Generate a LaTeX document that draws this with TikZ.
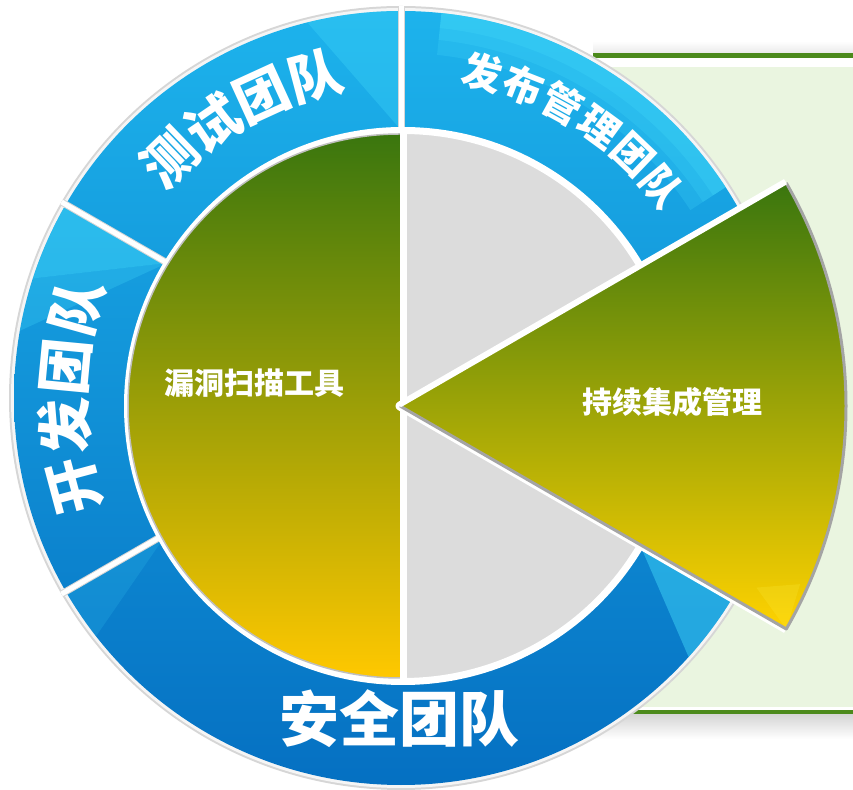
\documentclass[tikz,border=0pt]{standalone}
\usepackage{fontspec}
\newfontfamily\cjk{Noto Sans CJK SC}
\usetikzlibrary{calc}
\definecolor{panelfill}{HTML}{EAF5E0}
\definecolor{panelline}{HTML}{4C8A1C}
\definecolor{ringtop}{HTML}{1DB3EC}
\definecolor{ringmid}{HTML}{0A94D8}
\definecolor{ringbot}{HTML}{0570C2}
\definecolor{ringedge}{HTML}{D6D6D6}
\definecolor{gloss}{HTML}{45DCFB}
\definecolor{greentop}{HTML}{3A760E}
\definecolor{olive}{HTML}{A3A20C}
\definecolor{goldbot}{HTML}{FFC800}
\definecolor{wedgemid}{HTML}{AEA709}
\definecolor{wedgebot}{HTML}{FFD200}
\definecolor{sectorgray}{HTML}{DCDCDC}
\definecolor{bevel}{HTML}{A4A4A4}
\begin{document}
\begin{tikzpicture}[x=1pt,y=1pt,line join=round,
  ringtxt/.style={text=white,inner sep=0pt,font=\cjk\bfseries\fontsize{#1}{#1}\selectfont},
  intxt/.style={text=white,inner sep=0pt,font=\cjk\bfseries\fontsize{30}{30}\selectfont},
  gapline/.style={white,line width=5pt},
  glossy/.style={fill=gloss,opacity=#1}]
\useasboundingbox (0,0) rectangle (853,789);
\coordinate (rc) at (401,391);
\coordinate (ic) at (403,383);
\coordinate (wc) at (400,383);

% side panel behind the wheel
\shade[top color=white,bottom color=black!8] (593,736) rectangle (853,748);
\fill[panelfill] (593,82) rectangle (853,722);
\fill[panelline] (593,731) rectangle (853,736);
\fill[panelline] (593,75) rectangle (853,79);
\shade[top color=black!16,bottom color=white] (593,50) rectangle (853,74);

% outer ring
\fill[ringedge] (rc) circle (392);
\fill[white!96!black] (rc) circle (390);
\shade[top color=ringtop,middle color=ringmid,bottom color=ringbot] (rc) circle (387);

% highlights on the ring segments
\fill[glossy=.30] ($(rc)+(90:268)$) -- ($(rc)+(90:387)$) arc[start angle=90,end angle=104,radius=387] -- cycle;
\foreach \o/\r in {.22/345,.22/360,.25/372}
  \fill[glossy=\o] ($(rc)+(84:\r)$) arc[start angle=84,end angle=33,radius=\r]
     -- ($(rc)+(33:387)$) arc[start angle=33,end angle=84,radius=387] -- cycle;
\fill[glossy=.45] ($(rc)+(150:270)$) -- ($(rc)+(150:387)$) arc[start angle=150,end angle=162,radius=387] -- cycle;
\fill[glossy=.25] ($(rc)+(150:270)$) -- ($(rc)+(162:387)$) arc[start angle=162,end angle=170,radius=387] -- cycle;
\fill[glossy=.45] ($(rc)+(330:270)$) -- ($(rc)+(330:387)$) arc[start angle=330,end angle=318,radius=387] -- cycle;
\fill[glossy=.15] ($(rc)+(210:270)$) -- ($(rc)+(210:387)$) arc[start angle=210,end angle=218,radius=387] -- cycle;

% gaps between the team segments
\foreach \a [count=\i] in {90,150,210} {
  \coordinate (gi\i) at ($(rc)+(\a:262)$);
  \coordinate (go\i) at ($(rc)+(\a:392)$);
  \draw[ringedge,line width=7pt] (gi\i) -- (go\i);
  \draw[gapline] (gi\i) -- (go\i);
}

% team labels on the ring
\foreach \ch/\a [count=\i] in {测/134,试/124.3,团/114.6,队/104.9}
  \node[ringtxt=54,rotate=\a-90] (test\i) at ([shift={(\a:333)}]rc) {\ch};
\foreach \ch/\a [count=\i] in {发/76,布/68.6,管/61.2,理/53.8,团/46.4,队/39}
  \node[ringtxt=40,rotate=\a-90] (rel\i) at ([shift={(\a:336)}]rc) {\ch};
\foreach \ch/\a [count=\i] in {开/195,发/184.8,团/174.6,队/164.4}
  \node[ringtxt=56,rotate=\a-90] (dev\i) at ([shift={(\a:337)}]rc) {\ch};
\node[ringtxt=60] (sec) at (399,70) {安全团队};

% inner disc
\fill[white] (ic) circle (279);
\shade[top color=greentop,middle color=olive,bottom color=goldbot]
  ($(ic)+(-3,272)$) arc[start angle=90,end angle=270,radius=272] -- cycle;
\draw[bevel!70,line width=1.5pt] ($(ic)+(-3,272)$) arc[start angle=90,end angle=270,radius=272];
\fill[sectorgray,draw=white,line width=6pt] (ic) -- ++(30:275) arc[start angle=30,end angle=90,radius=275] -- cycle;
\fill[sectorgray,draw=white,line width=6pt] (ic) -- ++(270:275) arc[start angle=270,end angle=330,radius=275] -- cycle;
\draw[white,line width=7pt] ($(ic)+(0,276)$) -- ($(ic)+(0,-276)$);

% pulled-out wedge
\coordinate (wt) at ($(wc)+(30:446)$);
\coordinate (wb) at ($(wc)+(-30:446)$);
\draw[white,line width=9pt] (wt) -- (wc) -- (wb);
\shade[top color=greentop,middle color=wedgemid,bottom color=wedgebot]
  (wc) -- (wt) arc[start angle=30,end angle=-30,radius=446] -- cycle;
\fill[yellow!70!white,opacity=.18] (wb) -- ($(wc)+(-24:438)$) -- ($(wc)+(-27:400)$) -- cycle;
\draw[bevel,line width=3pt] (wc) -- (wb) arc[start angle=-30,end angle=30,radius=446];
\draw[white,line width=3pt] (wc) -- (wt);

% labels on the inner pieces
\node[intxt] (scan) at (254,406) {漏洞扫描工具};
\node[intxt] (ci) at (672,387) {持续集成管理};
\end{tikzpicture}
\end{document}
